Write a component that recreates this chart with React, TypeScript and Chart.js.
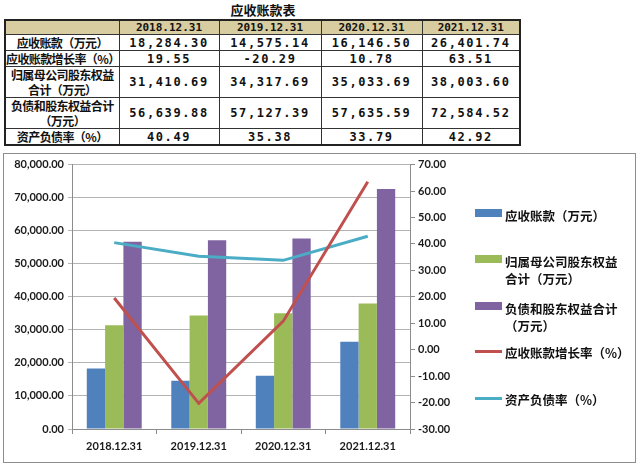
import React, { useEffect, useRef } from "react";
import { Chart, registerables } from "chart.js";

Chart.register(...registerables);

const categories = ["2018.12.31", "2019.12.31", "2020.12.31", "2021.12.31"];
const receivables = [18284.3, 14575.14, 16146.5, 26401.74];
const growthRate = [19.55, -20.29, 10.78, 63.51];
const parentEquity = [31410.69, 34317.69, 35033.69, 38003.6];
const totalLiabEquity = [56639.88, 57127.39, 57635.59, 72584.52];
const debtRatio = [40.49, 35.38, 33.79, 42.92];

const tableTitle = "应收账款表";
const rowLabels = [
  ["应收账款（万元）"],
  ["应收账款增长率（%）"],
  ["归属母公司股东权益", "合计（万元）"],
  ["负债和股东权益合计", "（万元）"],
  ["资产负债率（%）"],
];
const legendLabels = [
  ["应收账款（万元）"],
  ["归属母公司股东权益", "合计（万元）"],
  ["负债和股东权益合计", "（万元）"],
  ["应收账款增长率（%）"],
  ["资产负债率（%）"],
];

const BLUE = "#4f81bd";
const GREEN = "#9bbb59";
const PURPLE = "#8064a2";
const RED = "#c0504d";
const CYAN = "#4bacc6";

const fmt = (v: number) =>
  v.toLocaleString("en-US", { minimumFractionDigits: 2, maximumFractionDigits: 2 });

const tableRows = [receivables, growthRate, parentEquity, totalLiabEquity, debtRatio];
const rowHeights = [15, 15, 30, 30, 15];
const colWidths = [114, 100, 102, 101, 98];

const cjk = '"Noto Sans CJK SC", "Noto Sans", sans-serif';
const mono = '"DejaVu Sans Mono", "Liberation Mono", monospace';

export default function App() {
  const ref = useRef<HTMLCanvasElement | null>(null);

  useEffect(() => {
    if (!ref.current) return;
    const font = { family: "Lato, 'Liberation Sans', sans-serif", size: 11, weight: "bold" as const };
    const chart = new Chart(ref.current, {
      type: "bar",
      data: {
        labels: categories,
        datasets: [
          { type: "line", label: legendLabels[3].join(""), data: growthRate, borderColor: RED, backgroundColor: RED, borderWidth: 3, pointRadius: 0, yAxisID: "y1", order: 0, tension: 0 },
          { type: "line", label: legendLabels[4].join(""), data: debtRatio, borderColor: CYAN, backgroundColor: CYAN, borderWidth: 3, pointRadius: 0, yAxisID: "y1", order: 1, tension: 0 },
          { type: "bar", label: legendLabels[0].join(""), data: receivables, backgroundColor: BLUE, yAxisID: "y", order: 2, categoryPercentage: 0.65, barPercentage: 1 },
          { type: "bar", label: legendLabels[1].join(""), data: parentEquity, backgroundColor: GREEN, yAxisID: "y", order: 2, categoryPercentage: 0.65, barPercentage: 1 },
          { type: "bar", label: legendLabels[2].join(""), data: totalLiabEquity, backgroundColor: PURPLE, yAxisID: "y", order: 2, categoryPercentage: 0.65, barPercentage: 1 },
        ] as any,
      },
      options: {
        animation: false,
        responsive: false,
        maintainAspectRatio: false,
        layout: { padding: { left: 0, right: 173, top: 6, bottom: 0 } },
        plugins: { legend: { display: false }, tooltip: { enabled: false } },
        scales: {
          x: {
            offset: true,
            grid: { offset: true, drawOnChartArea: false, drawTicks: true, tickLength: 5, color: "#8c8c8c" },
            border: { display: true, color: "#8c8c8c" },
            ticks: { font, color: "#1a1a1a", padding: 6, maxRotation: 0 },
            afterFit: (s: any) => { s.height = 33; },
          },
          y: {
            position: "left",
            min: 0,
            max: 80000,
            ticks: { stepSize: 10000, font, color: "#1a1a1a", padding: 4, callback: (v: any) => fmt(Number(v)) },
            grid: { color: "#b4b4b4", tickLength: 4, drawTicks: true },
            border: { display: true, color: "#8c8c8c" },
            afterFit: (s: any) => { s.width = 68; },
          },
          y1: {
            position: "right",
            min: -30,
            max: 70,
            ticks: { stepSize: 10, font, color: "#1a1a1a", padding: 3, callback: (v: any) => Number(v).toFixed(2) },
            grid: { drawOnChartArea: false, tickLength: 5, color: "#8c8c8c" },
            border: { display: true, color: "#8c8c8c" },
            afterFit: (s: any) => { s.width = 52; },
          },
        },
      },
    });
    return () => chart.destroy();
  }, []);

  const cell: React.CSSProperties = {
    border: "1px solid #333",
    padding: 0,
    textAlign: "center",
    verticalAlign: "middle",
    fontWeight: "bold",
    color: "#111",
  };

  const legendItems = [
    { color: BLUE, kind: "box", top: 207 },
    { color: GREEN, kind: "box", top: 253 },
    { color: PURPLE, kind: "box", top: 300 },
    { color: RED, kind: "line", top: 344 },
    { color: CYAN, kind: "line", top: 391 },
  ];

  return (
    <div style={{ position: "absolute", left: 0, top: 0, width: 640, height: 467, background: "#fff", overflow: "hidden" }}>
      <div style={{ position: "absolute", left: 0, top: 2, width: 526, textAlign: "center", fontFamily: cjk, fontWeight: "bold", fontSize: 13, lineHeight: "16px", color: "#111" }}>
        {tableTitle}
      </div>
      <table style={{ position: "absolute", left: 4, top: 19, borderCollapse: "collapse", tableLayout: "fixed", width: 515, border: "2px solid #222" }}>
        <colgroup>
          {colWidths.map((w, i) => <col key={i} style={{ width: w }} />)}
        </colgroup>
        <tbody>
          <tr style={{ height: 13, background: "#d8cca1" }}>
            <td style={cell}></td>
            {categories.map((c) => (
              <td key={c} style={{ ...cell, fontFamily: mono, fontSize: 11, lineHeight: "13px" }}>{c}</td>
            ))}
          </tr>
          {tableRows.map((row, ri) => (
            <tr key={ri} style={{ height: rowHeights[ri] }}>
              <td style={{ ...cell, fontFamily: cjk, fontSize: 12, lineHeight: "15px", letterSpacing: -0.6 }}>
                {rowLabels[ri].map((l, li) => <div key={li}>{l}</div>)}
              </td>
              {row.map((v, ci) => (
                <td key={ci} style={{ ...cell, fontFamily: mono, fontSize: 12, lineHeight: "14px", letterSpacing: 1.6 }}>{fmt(v)}</td>
              ))}
            </tr>
          ))}
        </tbody>
      </table>

      <div style={{ position: "absolute", left: 3, top: 153, width: 631, height: 308, border: "1px solid #8c8c8c" }} />
      <canvas ref={ref} width={631} height={308} style={{ position: "absolute", left: 4, top: 154, width: 631, height: 308 }} />

      {legendItems.map((it, i) => (
        <div key={i} style={{ position: "absolute", left: 475, top: it.top, width: 160 }}>
          <div
            style={{
              position: "absolute",
              left: 0,
              top: it.kind === "box" ? 2 : 6,
              width: 27,
              height: it.kind === "box" ? 8 : 3,
              background: it.color,
            }}
          />
          <div style={{ position: "absolute", left: 30, top: 0, fontFamily: cjk, fontWeight: "bold", fontSize: 12.5, lineHeight: "17px", color: "#111", whiteSpace: "nowrap" }}>
            {legendLabels[i].map((l, li) => <div key={li}>{l}</div>)}
          </div>
        </div>
      ))}
    </div>
  );
}
